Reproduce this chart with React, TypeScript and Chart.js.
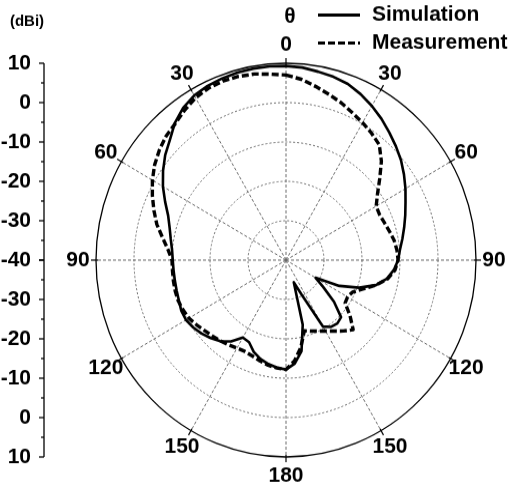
import React, { useEffect, useRef } from 'react';
import { Chart, registerables } from 'chart.js';

Chart.register(...registerables);

// Angle categories (degrees, clockwise from the top)
const ANGLES = [
  0, 5, 10, 15, 20, 25, 30, 35, 40, 45, 50, 55,
  60, 65, 70, 75, 80, 85, 90, 95, 100, 105, 110, 115,
  120, 125, 130, 135, 140, 145, 150, 155, 160, 165, 170, 175,
  180, 185, 190, 195, 200, 205, 210, 215, 220, 225, 230, 235,
  240, 245, 250, 255, 260, 265, 270, 275, 280, 285, 290, 295,
  300, 305, 310, 315, 320, 325, 330, 335, 340, 345, 350, 355,
];

// Gain in dBi at each angle
const SIMULATION = [
  9.3, 9.1, 8.6, 8.2, 7.6, 6.5, 5.2, 3.8, 2.3, 0.9, -0.5, -2.1,
  -3.7, -5.3, -6.6, -7.8, -8.9, -9.9, -10.5, -11.5, -13.0, -15.5, -19.5, -24.5,
  -31.0, -28.0, -23.5, -19.5, -19.0, -19.3, -20.5, -30.5, -34.0, -23.0, -16.5, -13.6,
  -12.2, -12.6, -13.2, -14.0, -15.2, -17.0, -17.3, -14.8, -13.1, -12.0, -11.0, -10.2,
  -9.6, -9.6, -10.0, -10.2, -10.3, -10.3, -10.2, -9.9, -9.2, -8.3, -7.0, -4.9,
  -2.6, -0.5, 1.5, 3.2, 5.5, 7.2, 8.3, 8.8, 9.1, 9.3, 9.4, 9.4,
];

const MEASUREMENT = [
  7.0, 6.1, 4.8, 3.6, 2.5, 1.3, 0.3, -0.7, -1.8, -4.5, -7.8, -10.6,
  -12.6, -12.8, -12.4, -11.8, -11.1, -10.7, -10.5, -11.2, -12.8, -15.5, -18.5, -20.7,
  -21.3, -21.0, -18.0, -15.0, -16.5, -18.0, -19.2, -20.1, -20.8, -21.4, -17.5, -14.3,
  -12.2, -12.5, -12.9, -13.5, -14.1, -14.4, -14.2, -13.7, -13.2, -12.7, -12.1, -11.3,
  -10.5, -10.1, -9.8, -9.8, -9.9, -10.0, -10.0, -8.8, -7.0, -4.8, -3.0, -1.2,
  0.6, 2.2, 3.5, 4.6, 5.3, 6.5, 7.6, 8.2, 8.4, 8.3, 8.0, 7.4,
];

// Radial (dBi) axis ticks and angular tick labels
const DB_TICKS = [10, 0, -10, -20, -30, -40];
const DB_MINOR_STEP = 5;
const ANGLE_TICKS = [0, 30, 60, 90, 120, 150, 180, 210, 240, 270, 300, 330];
const ANGLE_TICK_LABELS = ['0', '30', '60', '90', '120', '150', '180', '150', '120', '90', '60', '30'];

const AXIS_LABEL = '(dBi)';
const THETA_LABEL = '\u03B8';

const DB_MIN = -40;
const DB_MAX = 10;

const FONT_FAMILY = '"Liberation Sans", Arial, Helvetica, sans-serif';
const LABEL_FONT = `bold 21px ${FONT_FAMILY}`;

const CANVAS_W = 517;
const CANVAS_H = 470;
const DISPLAY_H = 487;

// Draws the angle labels, the linear dBi axis on the left and the legend.
const polarDecorations = {
  id: 'polarDecorations',
  afterDraw(chart: any) {
    const ctx: CanvasRenderingContext2D = chart.ctx;
    const r = chart.scales.r;
    const R = r.drawingArea;
    const cy = r.yCenter;
    ctx.save();

    // Short ticks across the outer circle at every 30 degrees
    ctx.strokeStyle = '#000';
    ctx.lineWidth = 1.2;
    ctx.setLineDash([]);
    ANGLE_TICKS.forEach((deg) => {
      const idx = ANGLES.indexOf(deg);
      const a = r.getPointPosition(idx, R - 2);
      const b = r.getPointPosition(idx, R + 5);
      ctx.beginPath();
      ctx.moveTo(a.x, a.y);
      ctx.lineTo(b.x, b.y);
      ctx.stroke();
    });

    // Angle labels
    ctx.font = LABEL_FONT;
    ctx.fillStyle = '#000';
    ctx.textAlign = 'center';
    ctx.textBaseline = 'middle';
    ANGLE_TICKS.forEach((deg, k) => {
      const idx = ANGLES.indexOf(deg);
      const p = r.getPointPosition(idx, R + 18);
      ctx.fillText(ANGLE_TICK_LABELS[k], p.x, p.y);
    });

    // Left dBi axis mirrored about the centre (-40 at the middle)
    const axisX = 44;
    const yTop = cy - r.getDistanceFromCenterForValue(DB_MAX);
    const yBottom = cy + r.getDistanceFromCenterForValue(DB_MAX);
    ctx.lineWidth = 1.3;
    ctx.beginPath();
    ctx.moveTo(axisX, yTop);
    ctx.lineTo(axisX, yBottom);
    ctx.stroke();
    for (let v = DB_MIN; v <= DB_MAX; v += DB_MINOR_STEP) {
      const d = r.getDistanceFromCenterForValue(v);
      const major = DB_TICKS.includes(v);
      const len = major ? 5 : 3;
      [cy - d, cy + d].forEach((y) => {
        ctx.beginPath();
        ctx.moveTo(axisX - len, y);
        ctx.lineTo(axisX, y);
        ctx.stroke();
      });
    }
    ctx.textAlign = 'right';
    DB_TICKS.forEach((v) => {
      const d = r.getDistanceFromCenterForValue(v);
      ctx.fillText(String(v), 31, cy - d);
      if (d > 0) ctx.fillText(String(v), 31, cy + d);
    });

    ctx.font = `bold 15px ${FONT_FAMILY}`;
    ctx.textAlign = 'center';
    ctx.fillText(AXIS_LABEL, 27, 20.5);

    // Angle symbol above the 0 label
    ctx.font = LABEL_FONT;
    const top = r.getPointPosition(0, R + 18);
    ctx.fillText(THETA_LABEL, top.x + 4, 16.5);

    // Legend
    const rows = [14.5, 41.5];
    chart.data.datasets.forEach((ds: any, i: number) => {
      const y = rows[i];
      ctx.strokeStyle = ds.borderColor;
      ctx.lineWidth = 3;
      ctx.setLineDash(ds.borderDash || []);
      ctx.beginPath();
      ctx.moveTo(318, y);
      ctx.lineTo(360, y);
      ctx.stroke();
      ctx.setLineDash([]);
      ctx.textAlign = 'left';
      ctx.fillText(ds.label, 372, y);
    });

    ctx.restore();
  },
};

export default function App() {
  const canvasRef = useRef<HTMLCanvasElement | null>(null);

  useEffect(() => {
    const canvas = canvasRef.current;
    if (!canvas) return;
    const chart = new Chart(canvas, {
      type: 'radar',
      data: {
        labels: ANGLES.map(String),
        datasets: [
          {
            label: 'Simulation',
            data: SIMULATION,
            borderColor: '#000',
            borderWidth: 2.6,
            borderJoinStyle: 'round',
            pointRadius: 0,
            fill: false,
            tension: 0,
          },
          {
            label: 'Measurement',
            data: MEASUREMENT,
            borderColor: '#000',
            borderWidth: 3.4,
            borderDash: [7, 3],
            borderJoinStyle: 'round',
            pointRadius: 0,
            fill: false,
            tension: 0,
          },
        ],
      },
      options: {
        responsive: false,
        maintainAspectRatio: false,
        animation: false,
        devicePixelRatio: 1,
        layout: { padding: { left: 96, right: 40, top: 61, bottom: 28 } },
        plugins: {
          legend: { display: false },
          tooltip: { enabled: false },
        },
        scales: {
          r: {
            min: DB_MIN,
            max: DB_MAX,
            startAngle: 0,
            ticks: { display: false, stepSize: 10 },
            pointLabels: { display: false },
            grid: {
              circular: true,
              color: (c: any) => (c.tick && c.tick.value === DB_MAX ? '#000' : '#6a6a6a'),
              lineWidth: (c: any) => (c.tick && c.tick.value === DB_MAX ? 1.3 : 1),
            },
            border: {
              dash: (c: any) => (c.tick && c.tick.value === DB_MAX ? [] : [2, 2]),
            },
            angleLines: {
              display: true,
              color: '#6a6a6a',
              lineWidth: (c: any) => (ANGLE_TICKS.includes(ANGLES[c.index]) ? 1 : 0),
              borderDash: [3, 2],
            },
          },
        },
      } as any,
      plugins: [polarDecorations],
    });
    return () => chart.destroy();
  }, []);

  return (
    <div style={{ position: 'absolute', left: 0, top: 0, width: CANVAS_W, height: DISPLAY_H, background: '#fff' }}>
      <canvas
        ref={canvasRef}
        width={CANVAS_W}
        height={CANVAS_H}
        style={{ display: 'block', width: `${CANVAS_W}px`, height: `${DISPLAY_H}px` }}
      />
    </div>
  );
}
